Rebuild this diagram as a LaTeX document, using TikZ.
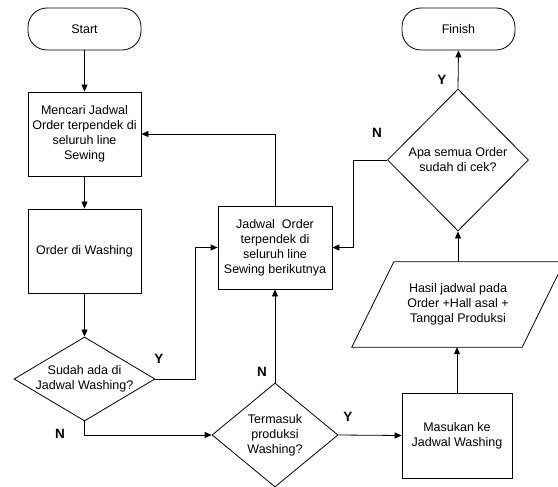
\documentclass[tikz,border=0pt]{standalone}
\usepackage{fontspec}
\setmainfont{Liberation Sans}
\usetikzlibrary{arrows.meta,shapes.geometric,calc}
\begin{document}
\begin{tikzpicture}[x=1pt,y=-1pt,
  every node/.style={font=\fontsize{12.5}{15}\selectfont, align=center, inner sep=0pt},
  line/.style={draw=black, line width=0.8pt},
  arr/.style={line, -{Triangle[length=7pt,width=6pt]}},
  term/.style={line, rectangle, rounded corners=19pt, minimum width=113pt, minimum height=42pt},
  proc/.style={line, rectangle, minimum width=113pt, minimum height=84pt},
  dec/.style={line, diamond, inner sep=0pt},
  yn/.style={font=\fontsize{13.5}{13.5}\selectfont\bfseries}]
\useasboundingbox (0,0) rectangle (558,487);

% nodes
\node[term] (start) at (84.5,29) {Start};
\node[term] (finish) at (458.5,29) {Finish};
\node[proc] (b1) at (84.5,134) {Mencari Jadwal\\Order terpendek di\\seluruh line\\Sewing};
\node[proc] (b2) at (84.5,251) {Order di Washing};
\node[dec, minimum width=141pt, minimum height=84pt,
      label={center:{Sudah ada di\\Jadwal Washing?}}] (d1) at (84.5,379) {};
\node[proc, minimum width=114pt, minimum height=83pt] (b3) at (275,247.5) {Jadwal~~Order\\terpendek di\\seluruh line\\Sewing berikutnya};
\node[dec, minimum width=126pt, minimum height=104pt,
      label={center:{Termasuk\\produksi\\Washing?}}] (d2) at (275,435) {};
\node[proc, minimum width=110pt, minimum height=85pt] (b4) at (457,435.5) {Masukan ke\\Jadwal Washing};
\node[minimum width=170pt, minimum height=85pt] (para) at (458,304.5) {Hasil jadwal pada\\Order +Hall asal +\\Tanggal Produksi};
\draw[line] ([xshift=-21pt]para.south west) -- ([xshift=-21pt]para.south east)
  -- ([xshift=21pt]para.north east) -- ([xshift=21pt]para.north west) -- cycle;
\node[dec, minimum width=141pt, minimum height=142pt,
      label={center:{Apa semua Order\\sudah di cek?}}] (d3) at (458,160) {};

% connectors
\draw[arr] (start) -- (b1);
\draw[arr] (b1) -- (b2);
\draw[arr] (b2) -- (d1);
\draw[arr] (d1.east) -- ++(40,0) |- (b3.west);
\draw[arr] (d1.south) |- (d2.west);
\draw[arr] (d2.north) -- (b3.south);
\draw[arr] (b3.north) |- (b1.east);
\draw[arr] (d2.east) -- (b4.west);
\draw[arr] (b4.north) -- (b4.north |- para.south);
\draw[arr] (para.north -| d3.south) -- (d3.south);
\draw[arr] (d3.north) -- (finish.south);
\draw[arr] (d3.west) -- ++(-34,0) |- (b3.east);

% labels
\node[yn] (y1) at (159,359) {Y};
\node[yn] (n1) at (60,434) {N};
\node[yn] (n2) at (262,372) {N};
\node[yn] (y2) at (348,417) {Y};
\node[yn] (y3) at (442,80) {Y};
\node[yn] (n3) at (377,133) {N};
\end{tikzpicture}
\end{document}
